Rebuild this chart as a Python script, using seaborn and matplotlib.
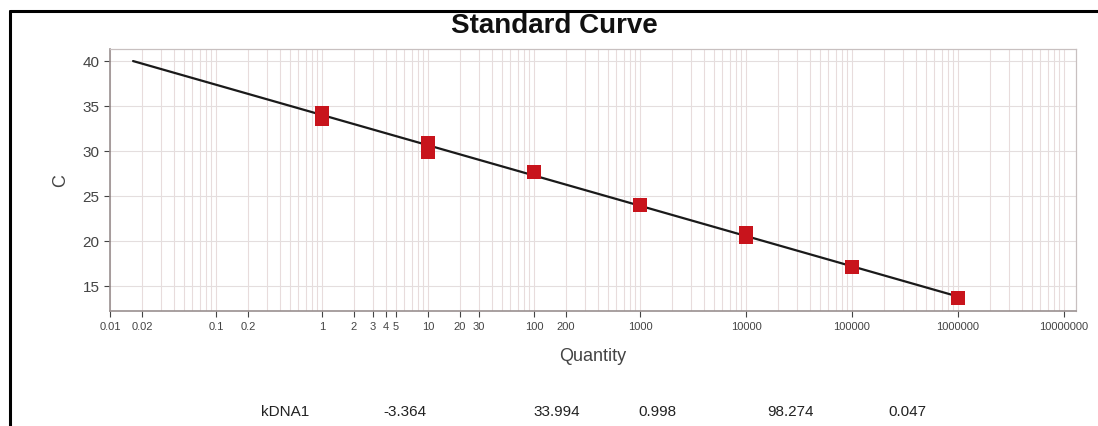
import matplotlib
matplotlib.use("Agg")
import matplotlib.pyplot as plt
import numpy as np
import pandas as pd
import seaborn as sns
from matplotlib.lines import Line2D
from matplotlib.ticker import FixedLocator, NullFormatter

# standards: quantity vs Ct (replicates at 1, 10 and 10000)
quantity = [1, 1, 10, 10, 100, 1000, 10000, 10000, 100000, 1000000]
ct = [34.2, 33.6, 30.9, 29.9, 27.6, 24.0, 20.9, 20.4, 17.1, 13.7]

# fit results shown under the chart
target = "kDNA1"
slope = -3.364
intercept = 33.994
r2 = 0.998
efficiency = 98.274
error = 0.047
fit_range = [0.0165, 1000000]

x_ticks = [0.01, 0.02, 0.1, 0.2, 1, 2, 3, 4, 5, 10, 20, 30, 100, 200,
           1000, 10000, 100000, 1000000, 10000000]
x_labels = ["0.01", "0.02", "0.1", "0.2", "1", "2", "3", "4", "5", "10", "20", "30",
            "100", "200", "1000", "10000", "100000", "1000000", "10000000"]
y_ticks = [15, 20, 25, 30, 35, 40]

sns.set_style("white")
plt.rcParams['font.family'] = ['Liberation Sans', 'DejaVu Sans']

fig = plt.figure(figsize=(10.98, 4.27), dpi=100)
ax = fig.add_axes([0.1002, 0.2693, 0.8798, 0.6136])

fit_x = np.array(fit_range, dtype=float)
fit_df = pd.DataFrame({"q": fit_x, "ct": slope * np.log10(fit_x) + intercept})
sns.lineplot(data=fit_df, x="q", y="ct", color="#1a1a1a", linewidth=1.6, ax=ax, zorder=3)

pts = pd.DataFrame({"q": quantity, "ct": ct})
sns.scatterplot(data=pts, x="q", y="ct", marker="s", s=105, color="#c8141c",
                edgecolor="#c8141c", linewidth=0, ax=ax, zorder=4)

ax.set_xscale("log")
ax.set_xlim(0.01, 1.3e7)
ax.set_ylim(12.2, 41.33)

ax.xaxis.set_major_locator(FixedLocator(x_ticks))
ax.set_xticklabels(x_labels)
minors = [m * 10.0 ** e for e in range(-2, 8) for m in range(1, 10)]
ax.xaxis.set_minor_locator(FixedLocator(minors))
ax.xaxis.set_minor_formatter(NullFormatter())
ax.set_yticks(y_ticks)

ax.grid(True, which="both", axis="x", color="#e8dcdc", linewidth=0.8)
ax.grid(True, which="major", axis="y", color="#e4dede", linewidth=0.8)
ax.set_axisbelow(True)

ax.tick_params(axis="x", which="major", labelsize=8, colors="#444444", length=4,
               direction="out", bottom=True)
ax.tick_params(axis="x", which="minor", length=0)
ax.tick_params(axis="y", labelsize=11, colors="#444444", length=4, direction="out", left=True)
for sp in ["left", "bottom"]:
    ax.spines[sp].set_color("#9a9090")
    ax.spines[sp].set_linewidth(1.2)
for sp in ["top", "right"]:
    ax.spines[sp].set_color("#c8c0c0")
    ax.spines[sp].set_linewidth(0.9)

ax.set_xlabel("Quantity", fontsize=13, color="#444444", labelpad=11)
ax.set_ylabel("C", fontsize=13, color="#444444", labelpad=10)

fig.text(0.505, 0.938, "Standard Curve", ha="center", va="center",
         fontsize=20, fontweight="bold", color="#111111")

row = [target, f"{slope:.3f}", f"{intercept:.3f}", f"{r2:.3f}", f"{efficiency:.3f}", f"{error:.3f}"]
row_x = [285, 405, 557, 657, 790, 907]
for txt, px in zip(row, row_x):
    fig.text(px / 1098, 0.035, txt, ha="center", va="center", fontsize=11,
             color="#222222", fontweight="medium")

# black frame at the top and left of the image
fig.add_artist(Line2D([0.0095, 1.0], [0.972, 0.972], color="black", linewidth=2.2))
fig.add_artist(Line2D([0.0095, 0.0095], [0.0, 0.972], color="black", linewidth=2.2))

fig.savefig("out.png", dpi=100, facecolor="white")
